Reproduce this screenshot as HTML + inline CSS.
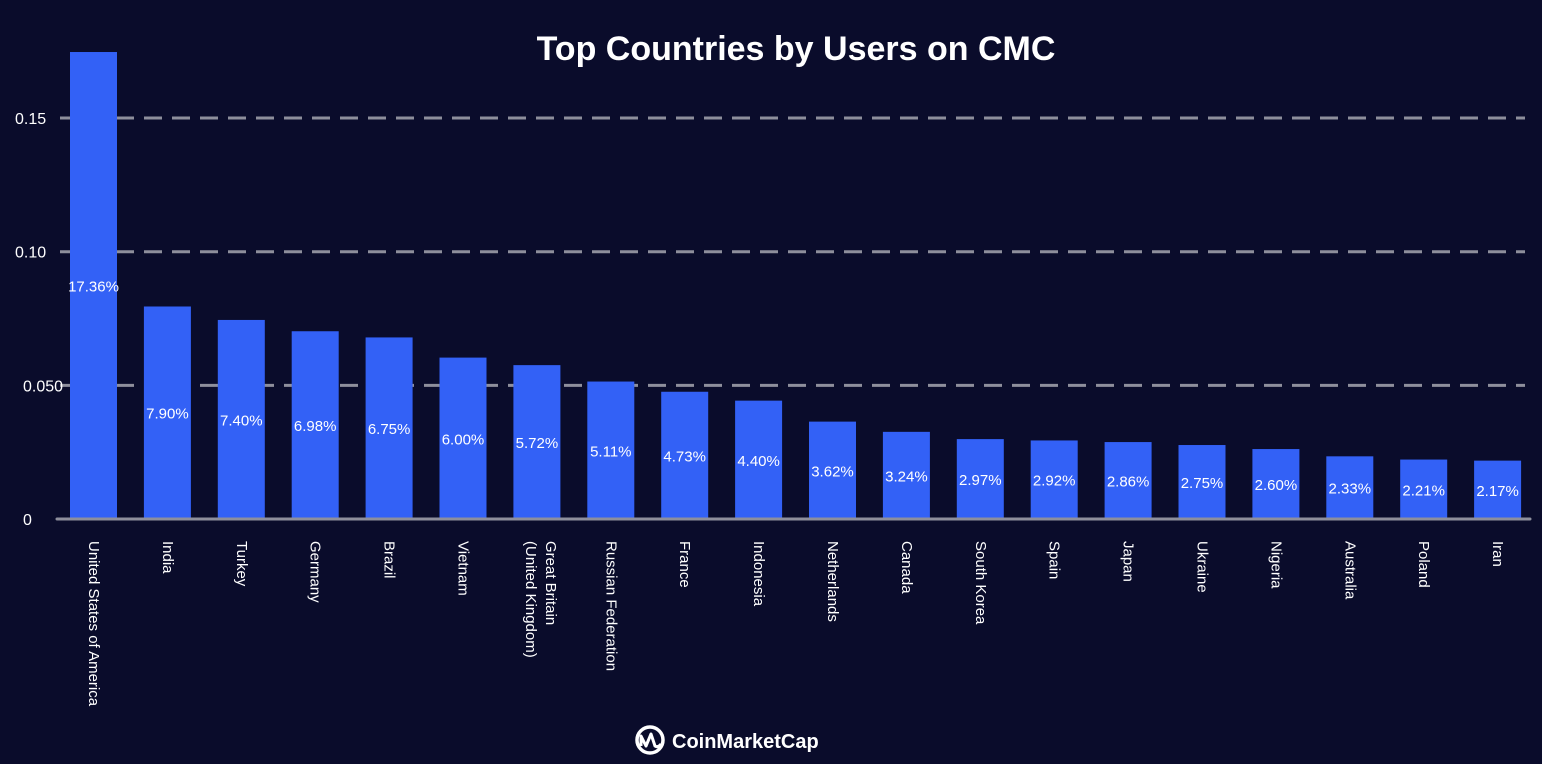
<!DOCTYPE html>
<html><head><meta charset="utf-8"><style>
html,body{margin:0;padding:0;background:#0a0c2b;width:1542px;height:764px;overflow:hidden}
svg{display:block;font-family:"Liberation Sans",sans-serif}
</style></head><body>
<svg id="chart" width="1542" height="764">
<rect width="1542" height="764" fill="#0a0c2b"/>
<text x="796" y="60" text-anchor="middle" fill="#fff" font-size="34" font-weight="bold">Top Countries by Users on CMC</text>
<g id="grid"></g><g id="bars"></g><g id="labels"></g><g id="xlabels"></g><g id="yticks"></g>
<g>
<circle cx="650" cy="740" r="13" fill="none" stroke="#fff" stroke-width="3.5"/>
<path d="M641 746 L641 736 L646 746 L651 734 L655 746 Q658 748 661 744" fill="none" stroke="#fff" stroke-width="3" stroke-linejoin="round"/>
<text x="672" y="748" fill="#fff" font-size="20" font-weight="bold">CoinMarketCap</text>
</g>
</svg>
<script>
const categories=["United States of America","India","Turkey","Germany","Brazil","Vietnam","Great Britain|(United Kingdom)","Russian Federation","France","Indonesia","Netherlands","Canada","South Korea","Spain","Japan","Ukraine","Nigeria","Australia","Poland","Iran"];
const values=[0.1736,0.079,0.074,0.0698,0.0675,0.06,0.0572,0.0511,0.0473,0.044,0.0362,0.0324,0.0297,0.0292,0.0286,0.0275,0.026,0.0233,0.0221,0.0217];
const valueLabels=["17.36%","7.90%","7.40%","6.98%","6.75%","6.00%","5.72%","5.11%","4.73%","4.40%","3.62%","3.24%","2.97%","2.92%","2.86%","2.75%","2.60%","2.33%","2.21%","2.17%"];
const yTicks=[0,0.05,0.1,0.15];
const yTickLabels=["0","0.050","0.10","0.15"];
const NS="http://www.w3.org/2000/svg";
const y0=519, yScale=2690;
function y(v){return y0-v*yScale;}
function x(i){return 93.5+i*73.9;}
function mk(t,a,p){const e=document.createElementNS(NS,t);for(const k in a)e.setAttribute(k,a[k]);document.getElementById(p).appendChild(e);return e;}
yTicks.forEach((t,i)=>{
 const gy=y0-t*2673;
 if(t>0){const l=mk('line',{x1:60,x2:1525,y1:gy,y2:gy,stroke:'#8e8f9c','stroke-width':3,'stroke-dasharray':'18 10'},'grid');
 
 }
 const tx=mk('text',{x:i<2?23:15,y:gy+6,fill:'#fff','font-size':16},'yticks');
 tx.textContent=yTickLabels[i];
 
 
});
values.forEach((v,i)=>{
 const b=mk('rect',{x:x(i)-23.5,y:y(v),width:47,height:y0-y(v),fill:'#3361f6'},'bars');
 
 
 const lt=mk('text',{x:x(i),y:y0-(y0-y(v))*0.5+6,fill:'#fff','font-size':15,'text-anchor':'middle'},'labels');
 lt.textContent=valueLabels[i];
 
 
 const parts=categories[i].split('|');
 parts.forEach((p,j)=>{
  const cx=(parts.length>1)?(x(i)-1+(parts.length-1)*10-j*20):(x(i)-4.5);
  const ct=mk('text',{x:0,y:0,transform:`translate(${cx},541) rotate(90)`,fill:'#fff','font-size':15},'xlabels');
  ct.textContent=p;
  
  
 });
});
const base=mk('line',{x1:57,x2:1530,y1:y0,y2:y0,stroke:'#8e8f9c','stroke-width':3,'stroke-linecap':'round'},'grid');
document.getElementById('chart').appendChild(document.getElementById('grid').lastChild);


</script>
</body></html>
